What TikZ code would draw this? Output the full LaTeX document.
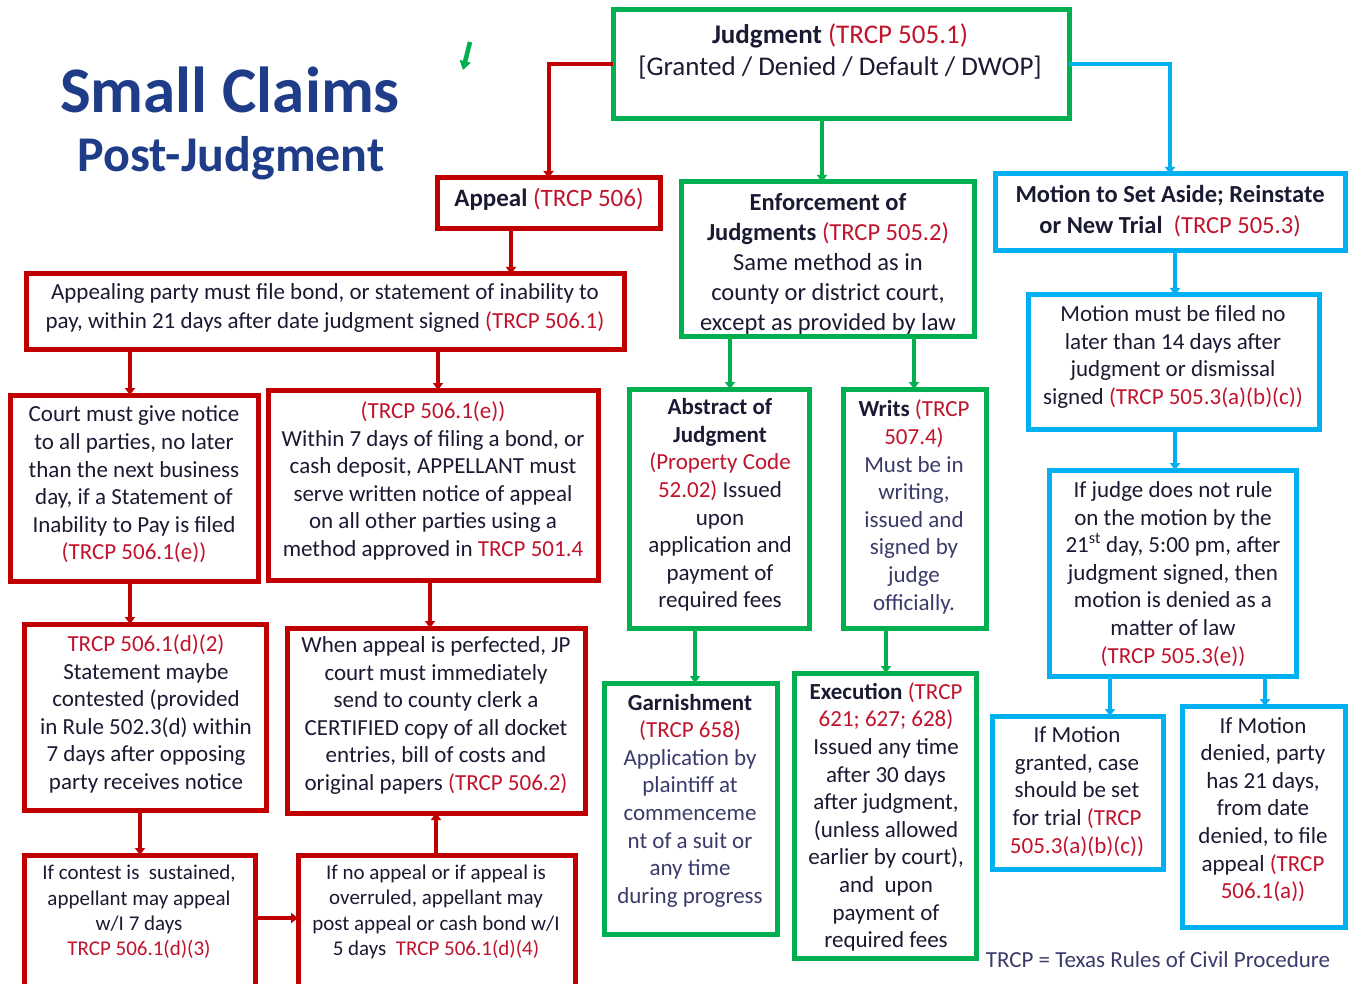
\documentclass[tikz,border=0pt]{standalone}
\usepackage{fontspec}
\setmainfont{Carlito}
\usetikzlibrary{fit,arrows.meta}
\definecolor{cred}{HTML}{C00000}
\definecolor{cgreen}{HTML}{00B050}
\definecolor{cblue}{HTML}{00B0F0}
\definecolor{ctxt}{HTML}{1A1A33}
\definecolor{ctred}{HTML}{C0142C}
\definecolor{cslate}{HTML}{3B3B6B}
\definecolor{cnavy}{HTML}{1F3C88}
\newcommand\trc[1]{\textcolor{ctred}{#1}}
\newcommand\slt[1]{\textcolor{cslate}{#1}}
\begin{document}
\begin{tikzpicture}[x=1pt,y=-1pt,
  bx/.style={draw,line width=5pt,inner sep=0pt,outer sep=0pt},
  rb/.style={bx,draw=cred},
  gb/.style={bx,draw=cgreen},
  bb/.style={bx,draw=cblue},
  conn/.style={line width=4pt,-{Triangle[length=7pt,width=10pt]}},
  txt/.style={align=center,inner sep=0pt,text=ctxt,font=\fontsize{23}{27.6}\selectfont},
  stxt/.style={txt,font=\fontsize{21}{25.3}\selectfont}]
\clip (0,0) rectangle (1349,984);
\fill[white] (0,0) rectangle (1349,984);
% title
\node[font=\fontsize{65}{72}\selectfont\bfseries,text=cnavy,inner sep=0pt] (title1) at (230,90) {Small Claims};
\node[font=\fontsize{50}{56}\selectfont\bfseries,text=cnavy,inner sep=0pt] (title2) at (231,158) {Post-Judgment};
\coordinate (mk1) at (470,42);
\coordinate (mk2) at (463,70);
\draw[cgreen,line width=4.5pt,-{Triangle[length=9pt,width=11pt]}] (mk1) -- (mk2);
% boxes
\node[gb,fit={(613,10) (1069,119)}] (judg) {};
\node[rb,fit={(437,178) (660,229)}] (appeal) {};
\node[gb,fit={(681,182) (974,336)}] (enf) {};
\node[bb,fit={(995,174) (1345,251)}] (mset) {};
\node[rb,fit={(26,274) (624,349)}] (apparty) {};
\node[rb,fit={(10,395) (258,581)}] (court) {};
\node[rb,fit={(268,390) (598,580)}] (seven) {};
\node[rb,fit={(24,624) (266,810)}] (d2) {};
\node[rb,fit={(287,628) (585,813)}] (perf) {};
\node[rb,fit={(24,855) (255,990)}] (contest) {};
\node[rb,fit={(298,855) (575,990)}] (noapp) {};
\node[gb,fit={(629,389) (809,628)}] (abs) {};
\node[gb,fit={(843,389) (986,628)}] (writs) {};
\node[gb,fit={(604,683) (777,934)}] (garn) {};
\node[gb,fit={(794,673) (976,958)}] (exec) {};
\node[bb,fit={(1028,295) (1319,429)}] (mfiled) {};
\node[bb,fit={(1049,470) (1296,676)}] (judge) {};
\node[bb,fit={(992,716) (1163,869)}] (mgrant) {};
\node[bb,fit={(1182,706) (1345,927)}] (mdeny) {};
% texts
\node[txt,font=\fontsize{27}{32}\selectfont] (judg-t) at (840,51) {\textbf{Judgment} \trc{(TRCP 505.1)}\\{}[Granted / Denied / Default / DWOP]};
\node[txt,font=\fontsize{25}{30}\selectfont] (appeal-t) at (549,199) {\textbf{Appeal} \trc{(TRCP 506)}};
\node[txt,font=\fontsize{24.5}{30}\selectfont] (enf-t) at (828,264) {\textbf{Enforcement of}\\\textbf{Judgments} \trc{(TRCP 505.2)}\\Same method as in\\county or district court,\\except as provided by law};
\node[txt,font=\fontsize{24.5}{31}\selectfont] (mset-t) at (1170,211) {\textbf{Motion to Set Aside; Reinstate}\\\textbf{or New Trial} \ \trc{(TRCP 505.3)}};
\node[txt,font=\fontsize{23}{29}\selectfont] (apparty-t) at (325,308) {Appealing party must file bond, or statement of inability to\\pay, within 21 days after date judgment signed \trc{(TRCP 506.1)}};
\node[txt] (court-t) at (134,484.5) {Court must give notice\\to all parties, no later\\than the next business\\day, if a Statement of\\Inability to Pay is filed\\\trc{(TRCP 506.1(e))}};
\node[txt] (seven-t) at (433,481) {\trc{(TRCP 506.1(e))}\\Within 7 days of filing a bond, or\\cash deposit, APPELLANT must\\serve written notice of appeal\\on all other parties using a\\method approved in \trc{TRCP 501.4}};
\node[txt] (d2-t) at (146,714) {\trc{TRCP 506.1(d)(2)}\\Statement maybe\\contested (provided\\in Rule 502.3(d) within\\7 days after opposing\\party receives notice};
\node[txt] (perf-t) at (436,715.5) {When appeal is perfected, JP\\court must immediately\\send to county clerk a\\CERTIFIED copy of all docket\\entries, bill of costs and\\original papers \trc{(TRCP 506.2)}};
\node[stxt] (contest-t) at (139,912) {If contest is \ sustained,\\appellant may appeal\\w/I 7 days\\\trc{TRCP 506.1(d)(3)}};
\node[stxt] (noapp-t) at (436,912) {If no appeal or if appeal is\\overruled, appellant may\\post appeal or cash bond w/I\\5 days \ \trc{TRCP 506.1(d)(4)}};
\node[txt] (abs-t) at (720,505) {\textbf{Abstract of}\\\textbf{Judgment}\\\trc{(Property Code}\\\trc{52.02)} Issued\\upon\\application and\\payment of\\required fees};
\node[txt] (writs-t) at (914,507) {\textbf{Writs} \trc{(TRCP}\\\trc{507.4)}\\\slt{Must be in}\\\slt{writing,}\\\slt{issued and}\\\slt{signed by}\\\slt{judge}\\\slt{officially.}};
\node[txt] (garn-t) at (690,800.5) {\textbf{Garnishment}\\\trc{(TRCP 658)}\\\slt{Application by}\\\slt{plaintiff at}\\\slt{commenceme}\\\slt{nt of a suit or}\\\slt{any time}\\\slt{during progress}};
\node[txt] (exec-t) at (886,817) {\textbf{Execution} \trc{(TRCP}\\\trc{621; 627; 628)}\\Issued any time\\after 30 days\\after judgment,\\(unless allowed\\earlier by court),\\and \ upon\\payment of\\required fees};
\node[txt] (mfiled-t) at (1173,357) {Motion must be filed no\\later than 14 days after\\judgment or dismissal\\signed \trc{(TRCP 505.3(a)(b)(c))}};
\node[txt] (judge-t) at (1173,574) {If judge does not rule\\on the motion by the\\21\textsuperscript{st} day, 5:00 pm, after\\judgment signed, then\\motion is denied as a\\matter of law\\\trc{(TRCP 505.3(e))}};
\node[txt] (mgrant-t) at (1077,791.5) {If Motion\\granted, case\\should be set\\for trial \trc{(TRCP}\\\trc{505.3(a)(b)(c))}};
\node[txt] (mdeny-t) at (1263,809.5) {If Motion\\denied, party\\has 21 days,\\from date\\denied, to file\\appeal \trc{(TRCP}\\\trc{506.1(a))}};
\node[txt,text=cslate,font=\fontsize{23}{26}\selectfont] (foot) at (1158,960) {TRCP = Texas Rules of Civil Procedure};
% connectors
\draw[conn,cred] (judg.west) -| (appeal.north);
\draw[conn,cgreen] (judg.south -| 822,0) -- (enf.north -| 822,0);
\draw[conn,cblue] (judg.east) -| (mset.north -| 1170,0);
\draw[conn,cred] (appeal.south -| 511,0) -- (apparty.north -| 511,0);
\draw[conn,cred] (apparty.south -| 130,0) -- (court.north -| 130,0);
\draw[conn,cred] (apparty.south -| 438,0) -- (seven.north -| 438,0);
\draw[conn,cred] (court.south -| 130,0) -- (d2.north -| 130,0);
\draw[conn,cred] (seven.south -| 430,0) -- (perf.north -| 430,0);
\draw[conn,cred] (d2.south -| 140,0) -- (contest.north -| 140,0);
\draw[conn,cred] (contest.east |- 0,918) -- (noapp.west |- 0,918);
\draw[conn,cred] (noapp.north -| 436,0) -- (perf.south -| 436,0);
\draw[conn,cgreen] (enf.south -| 730,0) -- (abs.north -| 730,0);
\draw[conn,cgreen] (enf.south -| 914,0) -- (writs.north -| 914,0);
\draw[conn,cgreen] (abs.south -| 695,0) -- (garn.north -| 695,0);
\draw[conn,cgreen] (writs.south -| 886,0) -- (exec.north -| 886,0);
\draw[conn,cblue] (mset.south -| 1175,0) -- (mfiled.north -| 1175,0);
\draw[conn,cblue] (mfiled.south -| 1175,0) -- (judge.north -| 1175,0);
\draw[conn,cblue] (judge.south -| 1110,0) -- (mgrant.north -| 1110,0);
\draw[conn,cblue] (judge.south -| 1265,0) -- (mdeny.north -| 1265,0);
\end{tikzpicture}
\end{document}
